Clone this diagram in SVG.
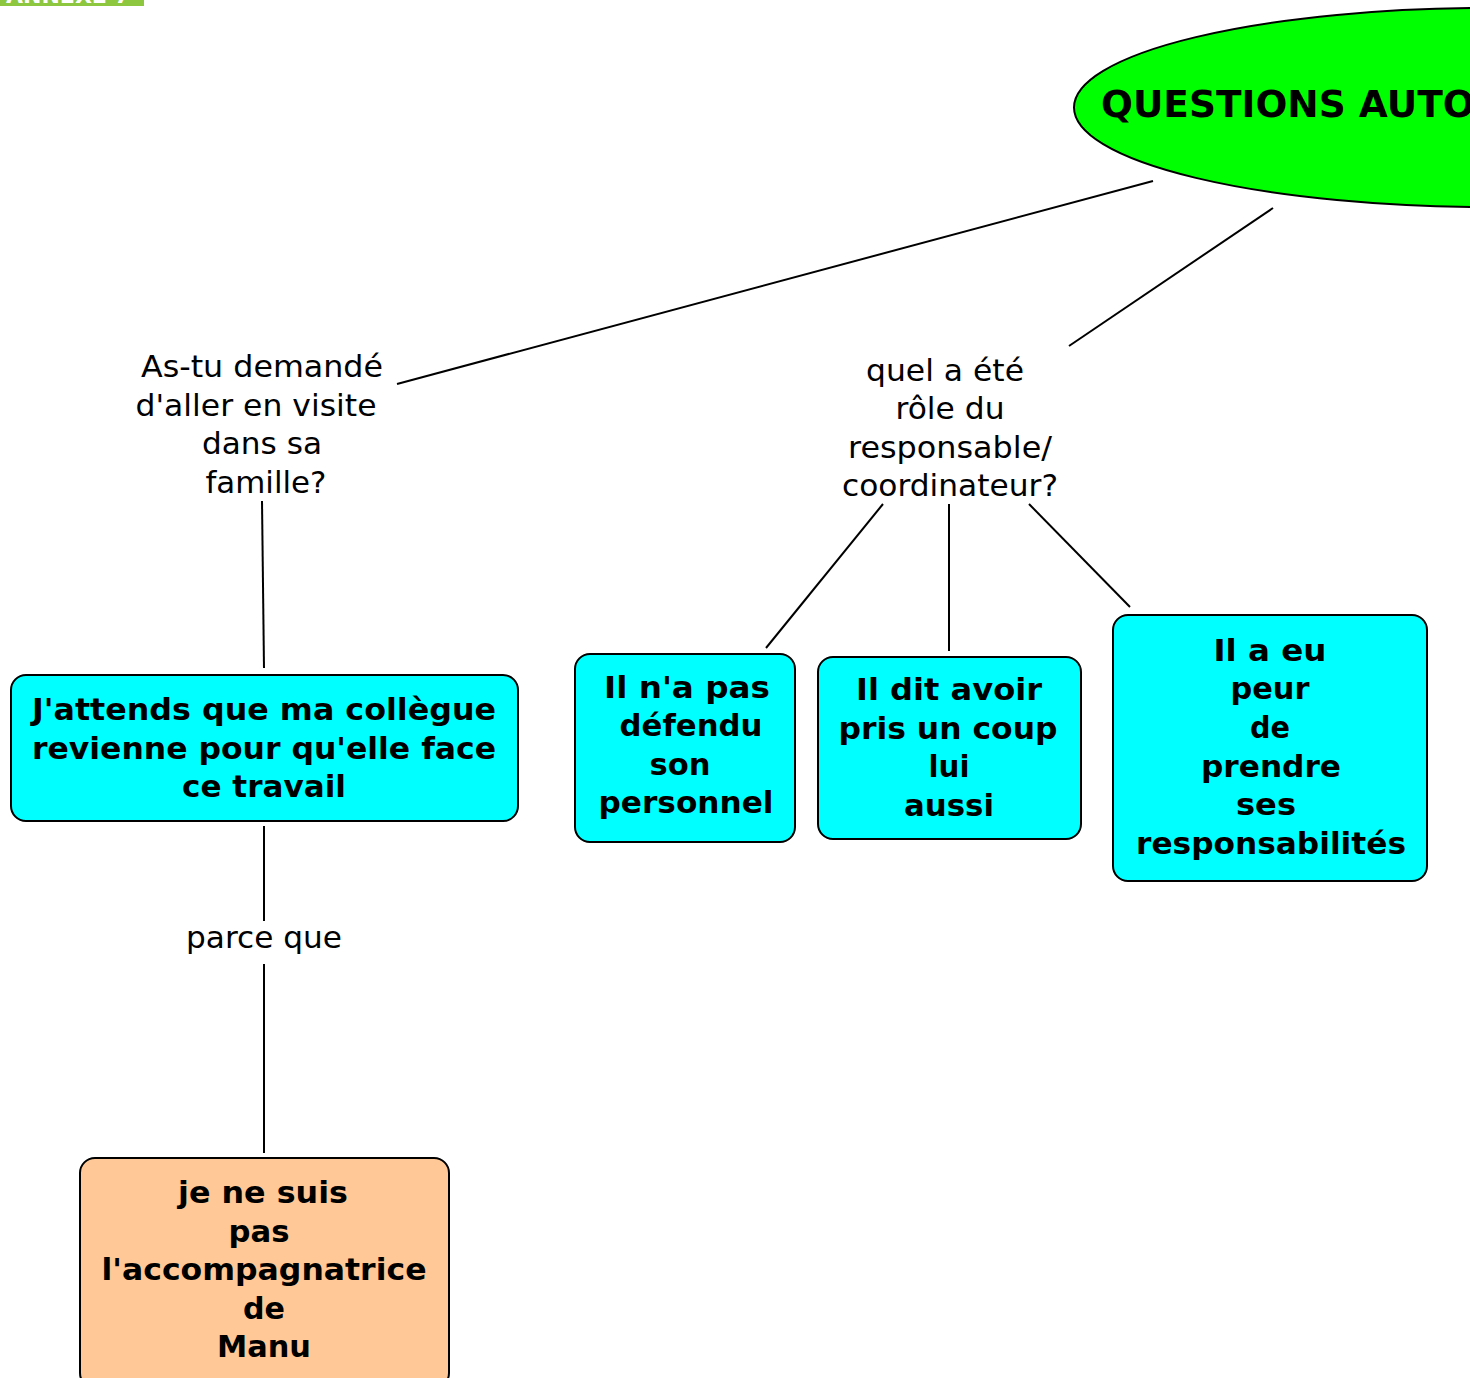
<svg xmlns="http://www.w3.org/2000/svg" width="1470" height="1378" viewBox="0 0 1470 1378">
  <style>
    .lbl { font-family: "DejaVu Sans", Verdana, sans-serif; font-size: 30px; fill: #000; text-anchor: middle; }
    .bold { font-family: "DejaVu Sans", Verdana, sans-serif; font-weight: bold; fill: #000; text-anchor: middle; }
    .box { stroke: #000; stroke-width: 2; }
    .cyan { fill: #00ffff; }
    .peach { fill: #ffc896; }
    .link { stroke: #000; stroke-width: 2; fill: none; }
  </style>
  <rect width="1470" height="1378" fill="#ffffff"/>

  <!-- page tag -->
  <g id="tag">
    <rect x="0" y="0" width="144" height="6" fill="#8dc63f"/>
    <text x="6" y="3" font-family="DejaVu Sans, sans-serif" font-weight="bold" font-size="22" fill="#ffffff">ANNEXE 7</text>
  </g>

  <!-- connectors -->
  <g id="connectors">
    <line class="link" x1="1153" y1="181" x2="397" y2="384"/>
    <line class="link" x1="1273" y1="208" x2="1069" y2="346"/>
    <line class="link" x1="262" y1="501" x2="264" y2="668"/>
    <line class="link" x1="264" y1="826" x2="264" y2="921"/>
    <line class="link" x1="264" y1="964" x2="264" y2="1153"/>
    <line class="link" x1="883" y1="504" x2="766" y2="648"/>
    <line class="link" x1="949" y1="504" x2="949" y2="651"/>
    <line class="link" x1="1029" y1="504" x2="1130" y2="607"/>
  </g>

  <!-- root -->
  <g id="root">
    <ellipse cx="1490" cy="107.5" rx="416" ry="99.5" fill="#00ff00" stroke="#000" stroke-width="2"/>
    <text x="1101" y="117" font-family="DejaVu Sans, Verdana, sans-serif" font-weight="bold" font-size="37.5" fill="#000">QUESTIONS AUTO</text>
  </g>

  <!-- link labels -->
  <g id="q-visite">
    <text class="lbl" x="262" y="377" textLength="242" lengthAdjust="spacingAndGlyphs">As-tu demandé</text>
    <text class="lbl" x="256" y="416" textLength="241" lengthAdjust="spacingAndGlyphs">d'aller en visite</text>
    <text class="lbl" x="262" y="454" textLength="120" lengthAdjust="spacingAndGlyphs">dans sa</text>
    <text class="lbl" x="266" y="493" textLength="121" lengthAdjust="spacingAndGlyphs">famille?</text>
  </g>
  <g id="q-role">
    <text class="lbl" x="945" y="381" textLength="158" lengthAdjust="spacingAndGlyphs">quel a été</text>
    <text class="lbl" x="950" y="419" textLength="109" lengthAdjust="spacingAndGlyphs">rôle du</text>
    <text class="lbl" x="950" y="458" textLength="204" lengthAdjust="spacingAndGlyphs">responsable/</text>
    <text class="lbl" x="950" y="496" textLength="216" lengthAdjust="spacingAndGlyphs">coordinateur?</text>
  </g>
  <g id="parce-que">
    <text class="lbl" x="264" y="948" textLength="156" lengthAdjust="spacingAndGlyphs">parce que</text>
  </g>

  <!-- concept boxes -->
  <g id="attends">
    <rect class="box cyan" x="11" y="675" width="507" height="146" rx="15"/>
    <text class="bold" font-size="31" x="264" y="720" textLength="464" lengthAdjust="spacingAndGlyphs">J'attends que ma collègue</text>
    <text class="bold" font-size="31" x="264" y="759" textLength="464" lengthAdjust="spacingAndGlyphs">revienne pour qu'elle face</text>
    <text class="bold" font-size="31" x="264" y="797" textLength="164" lengthAdjust="spacingAndGlyphs">ce travail</text>
  </g>

  <g id="pas-defendu">
    <rect class="box cyan" x="575" y="654" width="220" height="188" rx="15"/>
    <text class="bold" font-size="31" x="687" y="698" textLength="166" lengthAdjust="spacingAndGlyphs">Il n'a pas</text>
    <text class="bold" font-size="31" x="691" y="736" textLength="143" lengthAdjust="spacingAndGlyphs">défendu</text>
    <text class="bold" font-size="31" x="680" y="775" textLength="61" lengthAdjust="spacingAndGlyphs">son</text>
    <text class="bold" font-size="31" x="686" y="813" textLength="175" lengthAdjust="spacingAndGlyphs">personnel</text>
  </g>

  <g id="dit-avoir">
    <rect class="box cyan" x="818" y="657" width="263" height="182" rx="15"/>
    <text class="bold" font-size="31" x="949" y="700" textLength="186" lengthAdjust="spacingAndGlyphs">Il dit avoir</text>
    <text class="bold" font-size="31" x="948" y="739" textLength="219" lengthAdjust="spacingAndGlyphs">pris un coup</text>
    <text class="bold" font-size="31" x="949" y="777" textLength="41" lengthAdjust="spacingAndGlyphs">lui</text>
    <text class="bold" font-size="31" x="949" y="816" textLength="90" lengthAdjust="spacingAndGlyphs">aussi</text>
  </g>

  <g id="peur">
    <rect class="box cyan" x="1113" y="615" width="314" height="266" rx="15"/>
    <text class="bold" font-size="31" x="1270" y="661" textLength="113" lengthAdjust="spacingAndGlyphs">Il a eu</text>
    <text class="bold" font-size="31" x="1270" y="699" textLength="79" lengthAdjust="spacingAndGlyphs">peur</text>
    <text class="bold" font-size="31" x="1270" y="738" textLength="40" lengthAdjust="spacingAndGlyphs">de</text>
    <text class="bold" font-size="31" x="1271" y="777" textLength="140" lengthAdjust="spacingAndGlyphs">prendre</text>
    <text class="bold" font-size="31" x="1266" y="815" textLength="60" lengthAdjust="spacingAndGlyphs">ses</text>
    <text class="bold" font-size="31" x="1271" y="854" textLength="270" lengthAdjust="spacingAndGlyphs">responsabilités</text>
  </g>

  <g id="accompagnatrice">
    <rect class="box peach" x="80" y="1158" width="369" height="230" rx="15"/>
    <text class="bold" font-size="31" x="263" y="1203" textLength="170" lengthAdjust="spacingAndGlyphs">je ne suis</text>
    <text class="bold" font-size="31" x="259" y="1242" textLength="61" lengthAdjust="spacingAndGlyphs">pas</text>
    <text class="bold" font-size="31" x="264" y="1280" textLength="325" lengthAdjust="spacingAndGlyphs">l'accompagnatrice</text>
    <text class="bold" font-size="31" x="264" y="1319" textLength="42" lengthAdjust="spacingAndGlyphs">de</text>
    <text class="bold" font-size="31" x="264" y="1357" textLength="94" lengthAdjust="spacingAndGlyphs">Manu</text>
  </g>
</svg>
